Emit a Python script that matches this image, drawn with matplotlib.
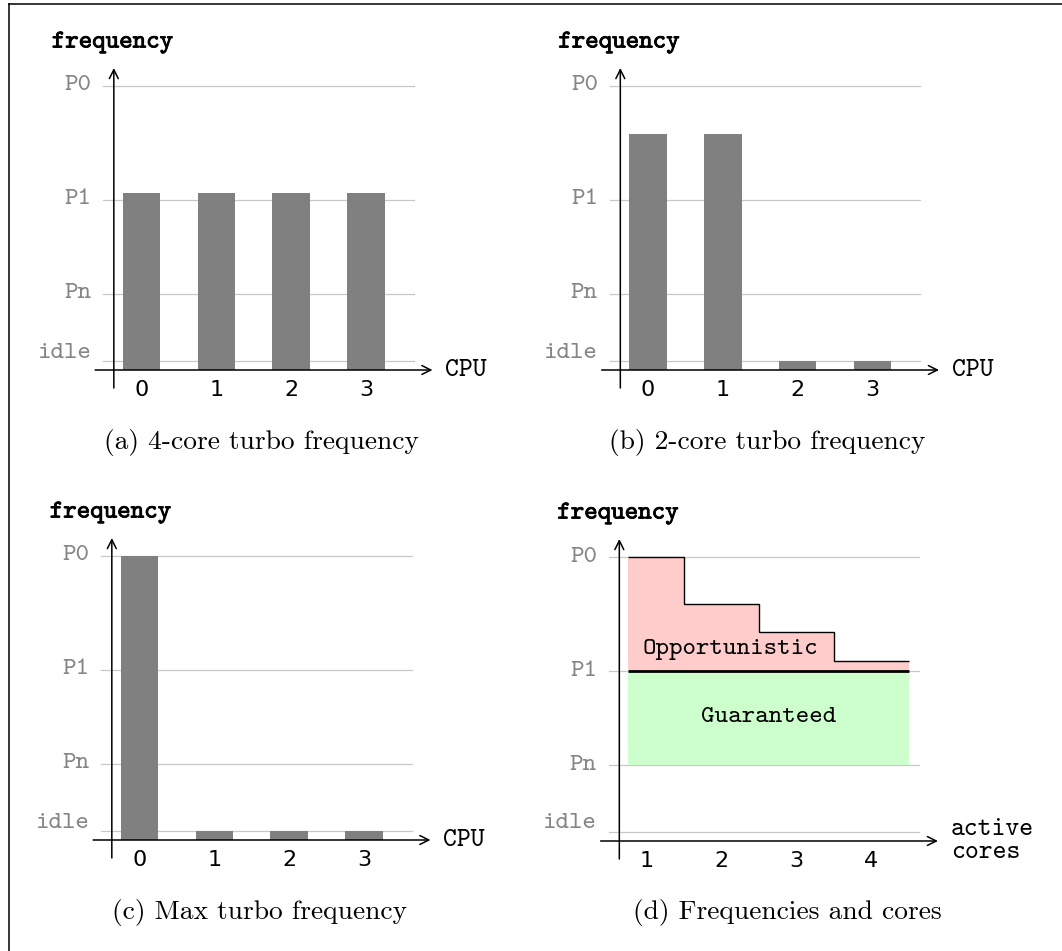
import numpy as np
import matplotlib
matplotlib.use("Agg")
import matplotlib.pyplot as plt
import matplotlib.patheffects as pe
from matplotlib.lines import Line2D

# frequency levels (y axis), axis line sits at 0
level_names = ['P0', 'P1', 'Pn', 'idle']
level_vals = [2.84, 1.70, 0.76, 0.09]

cpus = [0, 1, 2, 3]
freq_4core = [1.77, 1.77, 1.77, 1.77]
freq_2core = [2.36, 2.36, 0.09, 0.09]
freq_max = [2.84, 0.09, 0.09, 0.09]

cores = [1, 2, 3, 4]
turbo_steps = [2.84, 2.37, 2.09, 1.80]

captions = ['(a) 4-core turbo frequency', '(b) 2-core turbo frequency',
            '(c) Max turbo frequency', '(d) Frequencies and cores']

W, H = 1062, 951
PX_X, PX_Y = 74.8, 100.0
TT = 'cmtt10'
RM = 'cmr10'
GRAY = '#858585'

fig = plt.figure(figsize=(W / 100, H / 100), dpi=100)

# border (only top and left visible in the crop)
fig.add_artist(Line2D([9 / W, 1], [1 - 4 / H, 1 - 4 / H], color='black', lw=1.1))
fig.add_artist(Line2D([9 / W, 9 / W], [0, 1 - 4 / H], color='black', lw=1.1))


def make_axes(cx, cy, first, last):
    xlim = (first - 0.9, last + 1.05)
    ylim = (-0.3, 3.1)
    left = cx + (xlim[0] - first) * PX_X
    width = (xlim[1] - xlim[0]) * PX_X
    bottom = cy - ylim[0] * PX_Y
    height = (ylim[1] - ylim[0]) * PX_Y
    ax = fig.add_axes([left / W, 1 - bottom / H, width / W, height / H])
    ax.set_xlim(*xlim)
    ax.set_ylim(*ylim)
    ax.axis('off')
    return ax


def frame(ax, cats, caption, cap_x, xlabel):
    first, last = cats[0], cats[-1]
    for name, v in zip(level_names, level_vals):
        ax.plot([first - 0.51, last + 0.64], [v, v], color='#c8c8c8', lw=0.9, zorder=1)
        dy = 0.08 if name == 'idle' else 0.0
        ax.text(first - 0.67, v + dy, name, family=TT, fontsize=18.5, color=GRAY,
                ha='right', va='center')
    ax.annotate('', xy=(last + 0.89, 0), xytext=(first - 0.62, 0),
                arrowprops=dict(arrowstyle='->', lw=1.1, color='black',
                                shrinkA=0, shrinkB=0, mutation_scale=16), zorder=5)
    ax.annotate('', xy=(first - 0.37, 3.02), xytext=(first - 0.37, -0.18),
                arrowprops=dict(arrowstyle='->', lw=1.1, color='black',
                                shrinkA=0, shrinkB=0, mutation_scale=16), zorder=5)
    for c in cats:
        ax.text(c, -0.2, str(c), family='DejaVu Sans', fontsize=16, ha='center', va='center')
    ax.text(first - 1.2, 3.27, 'frequency', family=TT, fontsize=18.5, ha='left', va='center',
            path_effects=[pe.withStroke(linewidth=0.6, foreground='black')])
    ax.text(last + 1.06, 0, xlabel, family=TT, fontsize=19, ha='left', va='center',
            linespacing=0.95)
    ax.text(cap_x, -0.72, caption, family=RM, fontsize=19.8, ha='center', va='center')


panels = [(141.5, 370, freq_4core), (648, 370, freq_2core), (139.5, 840, freq_max)]
for i, (cx, cy, vals) in enumerate(panels):
    ax = make_axes(cx, cy, cpus[0], cpus[-1])
    ax.bar(cpus, vals, width=0.5, color='#808080', zorder=3)
    frame(ax, cpus, captions[i], 1.6, 'CPU')

# panel (d)
ax = make_axes(647, 841, cores[0], cores[-1])
c = np.array(cores, dtype=float)
edges = np.r_[c[0] - 0.25, c[:-1] + 0.5, c[-1] + 0.5]
p0, p1, pn = level_vals[0], level_vals[1], level_vals[2]
ax.fill_between([edges[0], edges[-1]], pn, p1, color='#ccffcc', lw=0, zorder=2)
ax.stairs(turbo_steps, edges, baseline=p1, fill=True, color='#ffcccc', lw=0, zorder=2)
ax.stairs(turbo_steps, edges, baseline=None, color='black', lw=1.0, zorder=3)
ax.plot([edges[0], edges[-1]], [p1, p1], color='black', lw=2.0, zorder=4, solid_capstyle='butt')
ax.text(2.12, 1.91, 'Opportunistic', family=TT, fontsize=18.5, ha='center', va='center', zorder=6)
ax.text(2.62, 1.23, 'Guaranteed', family=TT, fontsize=18.5, ha='center', va='center', zorder=6)
frame(ax, cores, captions[3], 2.87, 'active\ncores')

fig.savefig('out.png', dpi=100)
